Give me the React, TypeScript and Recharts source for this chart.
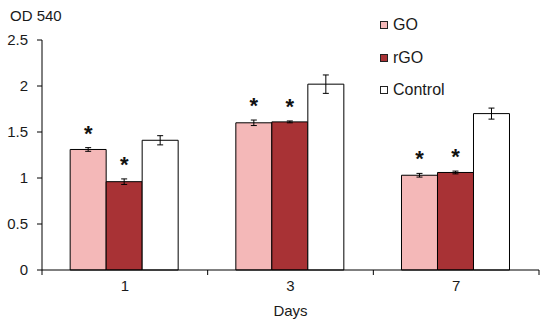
import { BarChart, Bar, XAxis, YAxis, ErrorBar, LabelList, Legend } from 'recharts'

const days = ['1', '3', '7']
const goValues = [1.31, 1.6, 1.03]
const goErrors = [0.02, 0.03, 0.02]
const rgoValues = [0.96, 1.61, 1.06]
const rgoErrors = [0.03, 0.01, 0.015]
const controlValues = [1.41, 2.02, 1.7]
const controlErrors = [0.05, 0.1, 0.06]
const yTicks = [0, 0.5, 1, 1.5, 2, 2.5]

const seriesNames = ['GO', 'rGO', 'Control']
const seriesColors = ['#f4b8b8', '#a83235', '#ffffff']

const W = 550
const H = 323
const MARGIN = { top: 40, right: 11, bottom: 0, left: 0 }
const Y_WIDTH = 42
const PLOT_W = W - MARGIN.left - MARGIN.right - Y_WIDTH
const FONT = 'Liberation Sans, Arial, sans-serif'
const TEXT = '#1a1a1a'

const data = days.map((d, i) => ({
  day: d,
  go: goValues[i],
  goErr: goErrors[i],
  rgo: rgoValues[i],
  rgoErr: rgoErrors[i],
  control: controlValues[i],
  controlErr: controlErrors[i],
}))

// tick label in the middle, tick marks at the category edges
const DayTick = (props: any) => {
  const { x, y, payload, index } = props
  const half = PLOT_W / days.length / 2
  const axisY = y - 10
  return (
    <g>
      <line x1={x - half} x2={x - half} y1={axisY} y2={axisY + 5} stroke="#000" />
      {index === days.length - 1 && (
        <line x1={x + half} x2={x + half} y1={axisY} y2={axisY + 5} stroke="#000" />
      )}
      <text x={x} y={y} dy="0.71em" textAnchor="middle" fontSize={15} fill={TEXT} fontFamily={FONT}>
        {payload.value}
      </text>
    </g>
  )
}

// asterisk above the error bar
const star = (errors: number[]) => (props: any) => {
  const vb = props.viewBox ?? props
  const { x, y, width, height } = vb
  const value = props.value
  if (!value || height == null) return null
  const errPx = (errors[props.index] * height) / value
  const cy = y - errPx - 19
  return (
    <text x={x + width / 2} y={cy + 12} textAnchor="middle" fontSize={22} fontWeight="bold" fill="#111" fontFamily={FONT}>
      *
    </text>
  )
}

const renderLegend = () => (
  <div style={{ fontFamily: FONT, fontSize: 16, color: TEXT }}>
    {seriesNames.map((name, i) => (
      <div key={name} style={{ display: 'flex', alignItems: 'center', height: 32.5 }}>
        <span
          style={{
            display: 'inline-block',
            width: 6,
            height: 6,
            background: seriesColors[i],
            border: '1px solid #222',
            marginRight: 5,
          }}
        />
        {name}
      </div>
    ))}
  </div>
)

export default function App() {
  return (
    <div style={{ position: 'absolute', left: 0, top: 0, width: W, height: H, background: '#fff' }}>
      <BarChart width={W} height={H} data={data} margin={MARGIN} barCategoryGap="17%" barGap={0}>
        <XAxis
          dataKey="day"
          axisLine={{ stroke: '#000' }}
          tickLine={false}
          tickSize={5}
          tickMargin={5}
          tick={<DayTick />}
          height={53}
          label={{ value: 'Days', position: 'insideBottom', offset: 7, fontSize: 15, fill: TEXT, fontFamily: FONT }}
        />
        <YAxis
          domain={[0, 2.5]}
          ticks={yTicks}
          width={Y_WIDTH}
          axisLine={{ stroke: '#000' }}
          tickLine={{ stroke: '#000' }}
          tickSize={5}
          tickMargin={9}
          tick={{ fontSize: 15, fill: TEXT, fontFamily: FONT }}
          label={() => (
            <text x={10} y={21} fontSize={15} fill={TEXT} fontFamily={FONT}>
              OD 540
            </text>
          )}
        />
        <Legend
          content={renderLegend}
          layout="vertical"
          verticalAlign="middle"
          align="center"
          wrapperStyle={{ position: 'absolute', left: 380, top: 9, width: 120 }}
        />
        <Bar dataKey="go" name="GO" fill={seriesColors[0]} stroke="#000" strokeWidth={1} isAnimationActive={false}>
          <ErrorBar dataKey="goErr" width={3} stroke="#000" strokeWidth={1} />
          <LabelList dataKey="go" content={star(goErrors)} />
        </Bar>
        <Bar dataKey="rgo" name="rGO" fill={seriesColors[1]} stroke="#000" strokeWidth={1} isAnimationActive={false}>
          <ErrorBar dataKey="rgoErr" width={3} stroke="#000" strokeWidth={1} />
          <LabelList dataKey="rgo" content={star(rgoErrors)} />
        </Bar>
        <Bar dataKey="control" name="Control" fill={seriesColors[2]} stroke="#000" strokeWidth={1} isAnimationActive={false}>
          <ErrorBar dataKey="controlErr" width={3} stroke="#000" strokeWidth={1} />
        </Bar>
      </BarChart>
    </div>
  )
}
